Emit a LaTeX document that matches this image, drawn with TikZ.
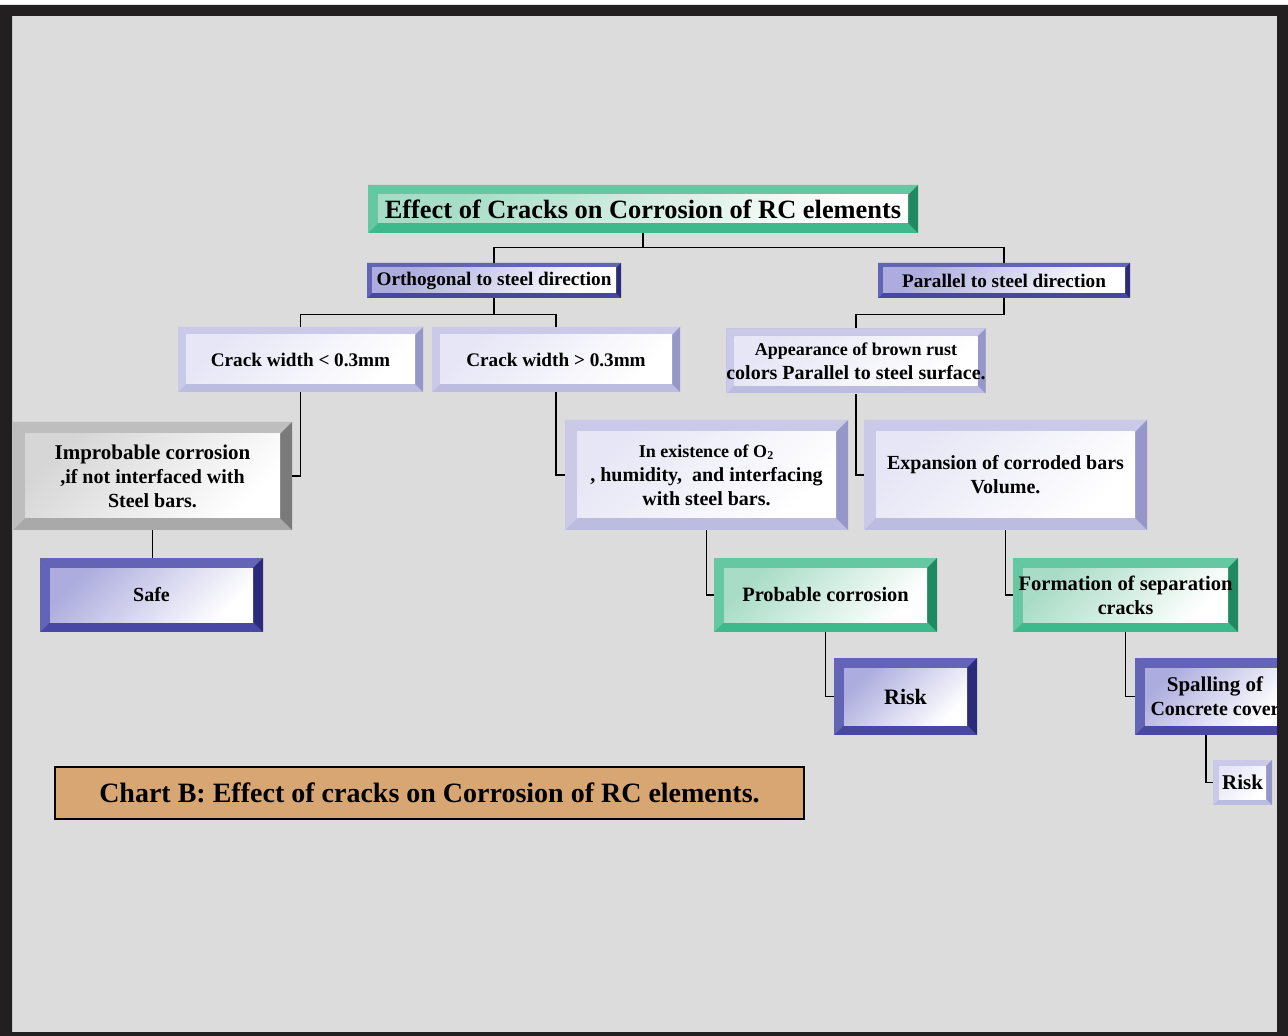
\documentclass[tikz,border=0pt]{standalone}
\usepackage{fontspec}
\setmainfont{Liberation Serif}
\newfontfamily\headfont{Liberation Serif}
\usetikzlibrary{calc}
\definecolor{frame}{HTML}{231F20}
\definecolor{bg}{HTML}{DCDCDC}
\definecolor{gmid}{HTML}{3DB98C}
\definecolor{glight}{HTML}{66C8A2}
\definecolor{gdark}{HTML}{1F8A62}
\definecolor{gtint}{HTML}{A8DCC6}
\definecolor{bmid}{HTML}{4848A4}
\definecolor{blight}{HTML}{6464B6}
\definecolor{bdark}{HTML}{2B2B7A}
\definecolor{btint}{HTML}{ACACDE}
\definecolor{lmid}{HTML}{BCBCE0}
\definecolor{llight}{HTML}{CACAE8}
\definecolor{ldark}{HTML}{9696C8}
\definecolor{ltint}{HTML}{E6E6F6}
\definecolor{smid}{HTML}{A9A9A9}
\definecolor{slight}{HTML}{BEBEBE}
\definecolor{sdark}{HTML}{7A7A7A}
\definecolor{stint}{HTML}{D6D6D6}
\definecolor{tanfill}{HTML}{D8A673}
\newcommand\bevfill[4]{%
  \coordinate (bvnw) at (path picture bounding box.north west);
  \coordinate (bvne) at (path picture bounding box.north east);
  \coordinate (bvse) at (path picture bounding box.south east);
  \coordinate (bvsw) at (path picture bounding box.south west);
  \coordinate (bvinw) at ([shift={(#4,-#4)}]bvnw);
  \coordinate (bvine) at ([shift={(-#4,-#4)}]bvne);
  \coordinate (bvise) at ([shift={(-#4,#4)}]bvse);
  \coordinate (bvisw) at ([shift={(#4,#4)}]bvsw);
  \fill[#1] (bvnw) -- (bvne) -- (bvine) -- (bvinw) -- cycle;
  \fill[#1] (bvnw) -- (bvsw) -- (bvisw) -- (bvinw) -- cycle;
  \fill[#2] (bvne) -- (bvse) -- (bvise) -- (bvine) -- cycle;
  \shade[left color=#3, right color=white, shading angle=45] (bvinw) rectangle (bvise);
}
\tikzset{
  bev/.style n args={5}{fill=#1, inner sep=0pt, align=center, font=\bfseries,
    path picture={\bevfill{#2}{#3}{#4}{#5}}},
  greenbox/.style={bev={gmid}{glight}{gdark}{gtint}{#1}},
  bluebox/.style={bev={bmid}{blight}{bdark}{btint}{#1}},
  lavbox/.style={bev={lmid}{llight}{ldark}{ltint}{#1}},
  graybox/.style={bev={smid}{slight}{sdark}{stint}{#1}},
  conn/.style={draw=black, line width=0.75pt},
}
\begin{document}
\begin{tikzpicture}[x=0.5pt,y=-0.5pt]
\useasboundingbox (0,0) rectangle (1288,1036);
\fill[white] (0,0) rectangle (1288,1036);
\fill[bg] (12,16) rectangle (1277,1032);

% nodes
\node[greenbox=5pt, minimum width=275pt, minimum height=24pt] (title) at (643,209)
  {\headfont\fontsize{13.2}{15}\selectfont\bfseries Effect of Cracks on Corrosion of RC elements};
\node[bluebox=2.5pt, minimum width=127pt, minimum height=17.5pt] (orth) at (494,280.5)
  {\fontsize{9.6}{11}\selectfont Orthogonal to steel direction};
\node[bluebox=2.5pt, minimum width=126pt, minimum height=17.5pt] (par) at (1004,280.5)
  {\fontsize{9.6}{11}\selectfont Parallel to steel direction};
\node[lavbox=4pt, minimum width=122.5pt, minimum height=32.5pt] (crl) at (300.5,359.5)
  {\fontsize{9.6}{11}\selectfont Crack width < 0.3mm};
\node[lavbox=4pt, minimum width=124pt, minimum height=32.5pt] (crg) at (556,359.5)
  {\fontsize{9.6}{11}\selectfont Crack width > 0.3mm};
\node[lavbox=4pt, minimum width=124pt, minimum height=32.5pt] (app) at (856,361)
  {\fontsize{9}{11}\selectfont Appearance of brown rust\\ colors Parallel to steel surface.};
\node[graybox=6pt, minimum width=139.5pt, minimum height=54pt] (imp) at (152.5,476)
  {\fontsize{10.5}{13.5}\selectfont Improbable corrosion\\ ,if not interfaced with\\ Steel bars.};
\node[lavbox=6pt, minimum width=141.5pt, minimum height=55pt] (exi) at (706.5,475)
  {\fontsize{9}{12}\selectfont In existence of O\textsubscript{2}\\ , humidity,\ \ and interfacing\\ with steel bars.};
\node[lavbox=6pt, minimum width=141.5pt, minimum height=55pt] (exp) at (1005.5,475)
  {\fontsize{10}{14.5}\selectfont Expansion of corroded bars\\ Volume.};
\node[bluebox=5pt, minimum width=111.5pt, minimum height=37pt] (safe) at (151.5,595)
  {\fontsize{10}{12}\selectfont Safe};
\node[greenbox=5pt, minimum width=111.5pt, minimum height=37pt] (prob) at (825.5,595)
  {\fontsize{10.2}{12}\selectfont Probable corrosion};
\node[greenbox=5pt, minimum width=112.5pt, minimum height=37pt] (form) at (1125.5,595)
  {\fontsize{10.3}{13}\selectfont Formation of separation\\ cracks};
\node[bluebox=5pt, minimum width=71.5pt, minimum height=38.5pt] (risk1) at (905.5,696.5)
  {\fontsize{11}{13}\selectfont Risk};
\node[bluebox=5pt, minimum width=80pt, minimum height=38.5pt] (spal) at (1215,696.5)
  {\fontsize{10.5}{14}\selectfont Spalling of\\ Concrete cover};
\node[lavbox=3pt, minimum width=29.5pt, minimum height=22.5pt] (risk2) at (1242.5,782.5)
  {\fontsize{10.5}{12}\selectfont Risk};
\node[draw=black, line width=0.6pt, fill=tanfill, minimum width=374.5pt, minimum height=26pt, inner sep=0pt] (cap) at (429.5,793)
  {\headfont\fontsize{14}{16}\selectfont\bfseries Chart B:\ Effect of cracks on Corrosion of RC elements.};

% connectors
\draw[conn] (title.south) -- ++(0,14) coordinate (tbus);
\draw[conn] (tbus) -| (orth.north);
\draw[conn] (tbus) -| (par.north);
\draw[conn] (orth.south) -- ++(0,16) coordinate (obus);
\draw[conn] (obus) -| (crl.north);
\draw[conn] (obus) -| (crg.north);
\draw[conn] (par.south) -- ++(0,16) -| (app.north);
\draw[conn] (crl.south) |- (imp.east);
\draw[conn] (crg.south) |- (exi.west);
\draw[conn] (app.south) |- (exp.west);
\draw[conn] (imp.south) -- (imp.south |- safe.north);
\draw[conn] (exi.south) |- (prob.west);
\draw[conn] (exp.south) |- (form.west);
\draw[conn] (prob.south) |- (risk1.west);
\draw[conn] (form.south) |- (spal.west);
\draw[conn] ([xshift=-4.5pt]spal.south) |- (risk2.west);

% frame
\fill[frame, even odd rule] (0,5) rectangle (1288,1036) (12,16) rectangle (1277,1032);
\end{tikzpicture}
\end{document}
